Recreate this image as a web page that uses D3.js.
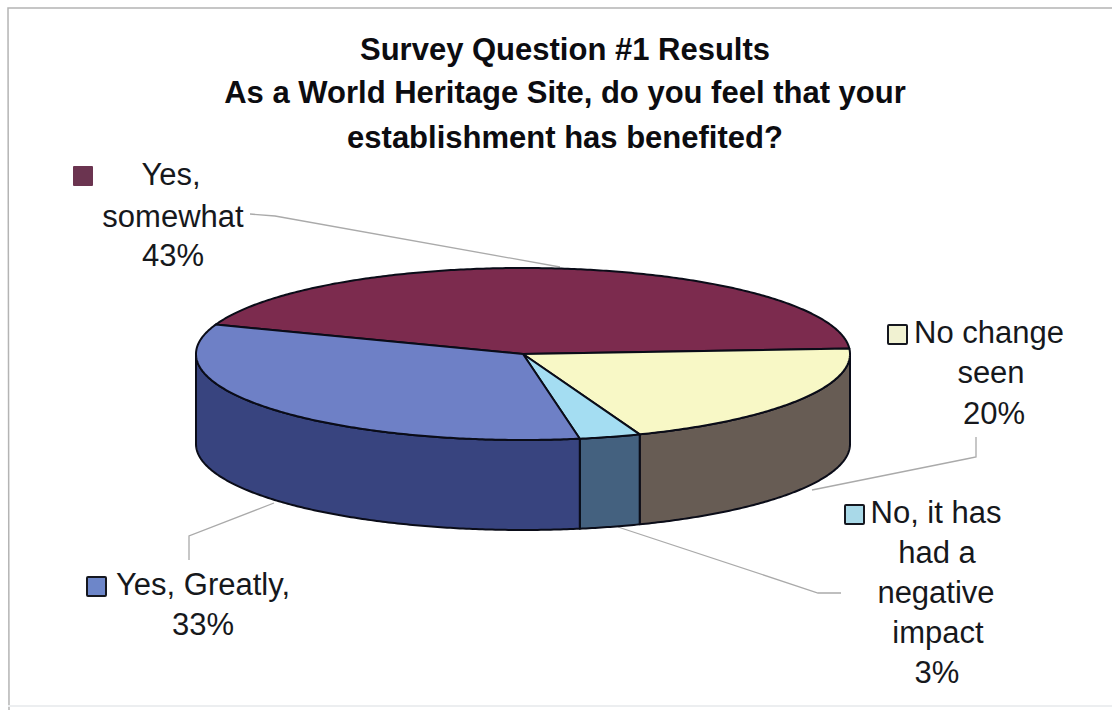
<!DOCTYPE html>
<html>
<head>
<meta charset="utf-8">
<script src="https://cdn.jsdelivr.net/npm/d3@7/dist/d3.min.js"></script>
<style>
html,body{margin:0;padding:0;background:#fff;overflow:hidden}
svg{display:block}
text{font-family:"Liberation Sans",Arial,sans-serif;fill:#16181c}
</style>
</head>
<body>
<svg id="chart" width="1115" height="710"></svg>
<script>
// Data
const categories = ["Yes, somewhat", "No change seen", "No, it has had a negative impact", "Yes, Greatly,"];
const values = [43, 20, 3, 33];
const titleLines = ["Survey Question #1 Results", "As a World Heritage Site, do you feel that your", "establishment has benefited?"];
const topColors = ["#7c2b4e", "#f8f8c6", "#a4ddf2", "#6e80c6"];
const sideColors = ["#4a1c30", "#675c54", "#44617f", "#38447f"];
const keyColors = ["#6b3450", "#f1f2d2", "#a9d9e8", "#6d86c9"];
const labelLines = [
  ["Yes,", "somewhat", "43%"],
  ["No change", "seen", "20%"],
  ["No, it has", "had a", "negative", "impact", "3%"],
  ["Yes, Greatly,", "33%"]
];

// Layout
const svg = d3.select("#chart");
const W = 1115, H = 710;
const cx = 523, cy = 354, rx = 327, ry = 86, depth = 90;
const startDeg = -70;
const rad = d => d * Math.PI / 180;

const sx = d3.scaleLinear().domain([-1, 1]).range([cx - rx, cx + rx]);
const sy = d3.scaleLinear().domain([-1, 1]).range([cy + ry, cy - ry]);
const line = d3.line().x(p => p[0]).y(p => p[1]);

const pie = d3.pie().sort(null).value(d => d)
  .startAngle(rad(startDeg)).endAngle(rad(startDeg) + 2 * Math.PI);
const arcs = pie(values);

function rimPoints(a0, a1, dy) {
  const n = Math.max(2, Math.ceil(Math.abs(a1 - a0) / 0.01));
  return d3.range(n + 1).map(i => {
    const a = a0 + (a1 - a0) * i / n;
    return [sx(Math.sin(a)), sy(Math.cos(a)) + dy];
  });
}

// frame
svg.append("rect").attr("width", W).attr("height", H).attr("fill", "#fff");
svg.append("path").attr("fill", "none").attr("stroke", "#b4b4b4").attr("stroke-width", 1.5)
  .attr("d", line([[9, H], [8, 8], [W - 3, 8]]));
svg.append("path").attr("fill", "none").attr("stroke", "#eceef0").attr("stroke-width", 2)
  .attr("d", line([[8, 706], [W - 3, 706]]));

// leader lines
const leaderLines = [
  [[250, 214], [275, 216], [560, 267]],
  [[976, 437], [976, 457], [966, 459], [812, 490]],
  [[618, 527], [818, 593], [841, 593]],
  [[189, 560], [189, 536], [274, 503]]
];
svg.append("g").selectAll("path").data(leaderLines).join("path")
  .attr("fill", "none").attr("stroke", "#aaaaaa").attr("stroke-width", 1.3)
  .attr("d", line);

// pie sides (only the front half, angles 90..270 degrees)
const side = svg.append("g");
arcs.forEach((d, i) => {
  const a0 = Math.max(d.startAngle, Math.PI / 2);
  const a1 = Math.min(d.endAngle, 3 * Math.PI / 2);
  if (a1 <= a0) return;
  const top = rimPoints(a0, a1, 0);
  const bottom = rimPoints(a1, a0, depth);
  side.append("path")
    .attr("d", line(top.concat(bottom)) + "Z")
    .attr("fill", sideColors[i])
    .attr("stroke", "#0a0c18").attr("stroke-width", 2).attr("stroke-linejoin", "round");
});

// pie tops
svg.append("g").selectAll("path").data(arcs).join("path")
  .attr("d", d => line([[sx(0), sy(0)]].concat(rimPoints(d.startAngle, d.endAngle, 0))) + "Z")
  .attr("fill", (d, i) => topColors[i])
  .attr("stroke", "#0a0c18").attr("stroke-width", 2).attr("stroke-linejoin", "round");

// title
const titleY = [60, 103, 148];
svg.append("g").selectAll("text").data(titleLines).join("text")
  .attr("x", 565)
  .attr("y", (d, i) => titleY[i])
  .attr("text-anchor", "middle")
  .attr("font-size", 31).attr("font-weight", "bold").style("fill", "#0c0c10")
  .text(d => d);

// labels
const labelPos = [
  { x: [171, 173, 173], y: [185, 227, 266], key: [73, 166, 20, true] },
  { x: [989, 991, 994], y: [343, 383, 424], key: [888, 325, 19] },
  { x: [936, 937, 936, 938, 937], y: [523, 563, 603, 643, 683], key: [845, 505, 19] },
  { x: [203, 203], y: [595, 635], key: [87, 577, 19] }
];

const labelG = svg.append("g");
labelLines.forEach((lines, i) => {
  const p = labelPos[i];
  labelG.selectAll("text.l" + i).data(lines).join("text")
    .attr("class", "l" + i)
    .attr("x", (d, j) => p.x[j])
    .attr("y", (d, j) => p.y[j])
    .attr("text-anchor", "middle")
    .attr("font-size", 31)
    .text(d => d);
  const k = p.key;
  labelG.append("rect")
    .attr("x", k[0]).attr("y", k[1]).attr("width", k[2]).attr("height", k[2])
    .attr("fill", keyColors[i])
    .attr("stroke", k[3] ? "none" : "#15171f")
    .attr("stroke-width", 2).attr("rx", 1);
});
</script>
</body>
</html>
